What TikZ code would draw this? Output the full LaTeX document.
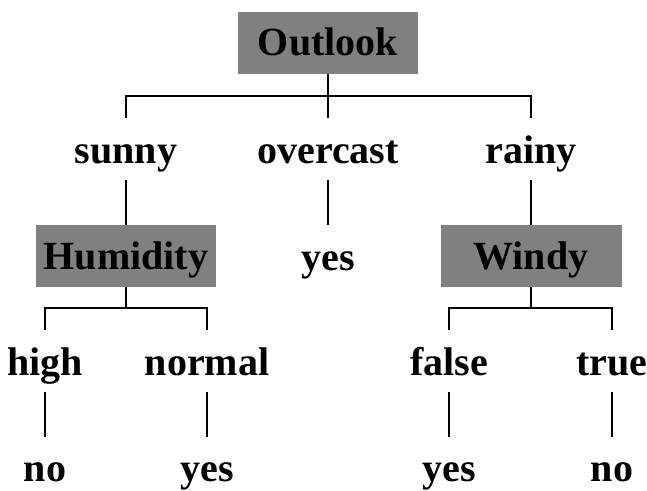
\documentclass[tikz,border=0pt]{standalone}
\usepackage{fontspec}
\setmainfont{Liberation Serif}
\begin{document}
\begin{tikzpicture}[x=1pt,y=-1pt,
  every node/.style={font=\fontsize{40}{48}\selectfont\bfseries},
  attr/.style={fill={rgb,255:red,128;green,128;blue,128}, draw=none, minimum width=180pt, minimum height=62pt, text height=26pt, text depth=0pt, inner sep=0pt},
  lbl/.style={anchor=base, text height=34pt, text depth=6pt, inner xsep=0pt, inner ysep=11pt},
  leaf/.style={anchor=base, text height=44pt, text depth=0pt, inner sep=0pt},
  edge/.style={line width=2pt, black}]
\useasboundingbox (0,0) rectangle (647,490);
% decision nodes
\node[attr] (outlook) at (328,42.5) {Outlook};
\node[attr] (humidity) at (126,256) {Humidity};
\node[attr, minimum width=181pt] (windy) at (531,256) {Windy};
% branch labels
\node[lbl] (sunny) at (126,163) {sunny};
\node[lbl] (overcast) at (328,163) {overcast};
\node[lbl] (rainy) at (531,163) {rainy};
\node[lbl] (yesA) at (328,270) {yes};
\node[lbl] (high) at (45,375) {high};
\node[lbl] (normal) at (207,375) {normal};
\node[lbl] (false) at (449,375) {false};
\node[lbl] (true) at (612,375) {true};
\node[leaf] (noA) at (45,481) {no};
\node[leaf] (yesB) at (207,481) {yes};
\node[leaf] (yesC) at (449,481) {yes};
\node[leaf] (noB) at (612,481) {no};
% fork points
\coordinate (f1) at (328,96);
\coordinate (f2) at (126,308);
\coordinate (f3) at (531,308);
% connectors
\draw[edge] (outlook.south) -- (f1) -- (overcast.north);
\draw[edge] (sunny.north) |- (f1) -| (rainy.north);
\draw[edge] (sunny.south) -- (humidity.north);
\draw[edge] (overcast.south) -- (yesA.north);
\draw[edge] (rainy.south) -- (windy.north);
\draw[edge] (humidity.south) -- (f2);
\draw[edge] (high.north) |- (f2) -| (normal.north);
\draw[edge] (windy.south) -- (f3);
\draw[edge] (false.north) |- (f3) -| (true.north);
\draw[edge] (high.south) -- (noA.north);
\draw[edge] (normal.south) -- (yesB.north);
\draw[edge] (false.south) -- (yesC.north);
\draw[edge] (true.south) -- (noB.north);
\end{tikzpicture}
\end{document}
